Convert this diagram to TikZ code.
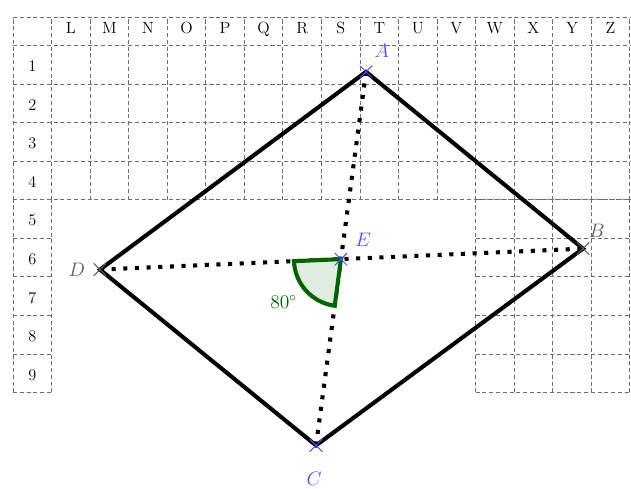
\documentclass[tikz,border=0pt]{standalone}
\usepackage{tikz}
\usetikzlibrary{calc,shapes.misc}
\definecolor{ptblue}{RGB}{77,77,255}
\definecolor{ptgray}{RGB}{90,90,90}
\definecolor{anglegreen}{RGB}{0,100,0}
\definecolor{gridgray}{RGB}{110,110,110}
\tikzset{
  gridline/.style={draw=gridgray, line width=0.6pt, dash pattern=on 3pt off 2pt},
  side/.style={draw=black, line width=3pt},
  diag/.style={draw=black, line width=3pt, dash pattern=on 3pt off 5.6pt},
  anglemark/.style={draw=anglegreen, fill=anglegreen!12, line width=3pt},
  ptcross/.style={cross out, draw, inner sep=0pt, minimum size=3mm, line width=0.7pt},
  ptlabel/.style={inner sep=1pt, font=\Large},
  hdr/.style={anchor=base, font=\large},
}

\begin{document}
\begin{tikzpicture}
  \useasboundingbox (-0.337,-2.487) rectangle (16.03,10.18);
  % grid, emptied under the figure
  \draw[gridline] (0,5) grid (16,9.73);
  \draw[gridline] (0,9.73) -- (16,9.73);
  \draw[gridline] (0,0) grid (1,5);
  \draw[gridline] (12,0) grid (16,5);
  \foreach \c [count=\i] in {L,M,N,O,P,Q,R,S,T,U,V,W,X,Y,Z}
    \node[hdr] (col\c) at (\i+0.5,9.32) {\c};
  \foreach \r in {1,...,9}
    \node[hdr] (row\r) at (0.5,9.32-\r) {\r};
  % points
  \coordinate (A) at (9.157,8.316);
  \coordinate (B) at (14.786,3.731);
  \coordinate (C) at (7.860,-1.373);
  \coordinate (D) at (2.257,3.187);
  \coordinate (E) at (intersection of A--C and D--B);
  \draw[side] (A) -- (B) -- (C) -- (D) -- cycle;
  \draw[diag] (A) -- (C);
  \draw[diag] (D) -- (B);
  % angle DEC
  \draw[anglemark] let \p1=($(D)-(E)$), \p2=($(C)-(E)$),
      \n1={atan2(\y1,\x1)}, \n2={atan2(\y2,\x2)} in
      (E) -- ++(\n1:1.22cm) arc[start angle=\n1, end angle=\n2, radius=1.22cm] -- cycle;
  \node[text=anglegreen, font=\Large] (lang) at (7.02,2.34) {80$^\circ$};
  \foreach \p/\col in {A/ptblue,B/ptgray,C/ptblue,D/ptgray,E/ptblue}
    \node[ptcross, draw=\col] (x\p) at (\p) {};
  \node[ptlabel, text=ptblue] (lA) at ($(A)+(0.41,0.54)$) {$A$};
  \node[ptlabel, text=ptgray] (lB) at ($(B)+(0.36,0.47)$) {$B$};
  \node[ptlabel, text=ptblue] (lC) at ($(C)+(-0.05,-0.88)$) {$C$};
  \node[ptlabel, text=ptgray] (lD) at ($(D)+(-0.6,0)$) {$D$};
  \node[ptlabel, text=ptblue] (lE) at ($(E)+(0.57,0.49)$) {$E$};
\end{tikzpicture}
\end{document}
